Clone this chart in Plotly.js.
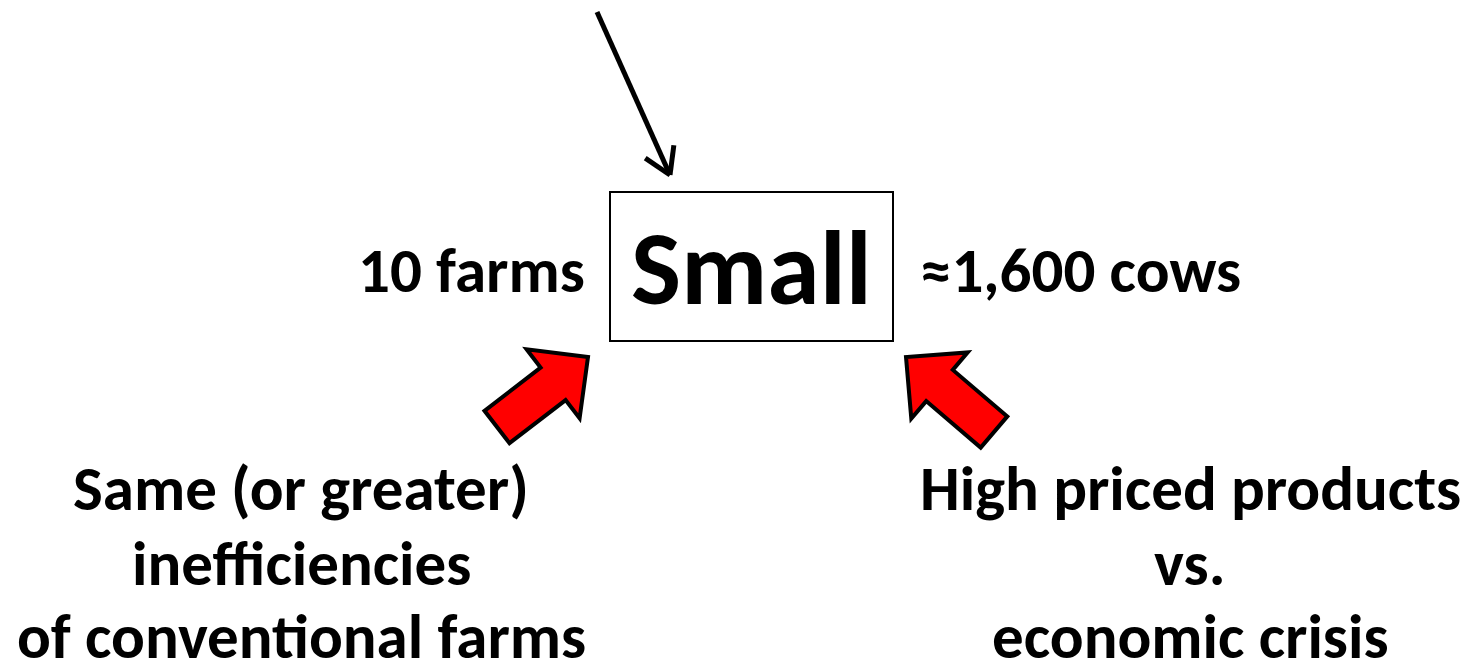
<!DOCTYPE html>
<html>
<head>
<meta charset="utf-8">
<script src="https://cdn.plot.ly/plotly-3.0.1.min.js"></script>
<style>
  html, body { margin: 0; padding: 0; background: #fff; }
  #diagram { width: 1470px; height: 661px; }
</style>
</head>
<body>
<div id="diagram"></div>
<script>
// labels
var centreLabel = 'Small';
var sideLabels = ['10 farms', '≈1,600 cows'];
var leftLines = ['Same (or greater)', 'inefficiencies', 'of conventional farms'];
var rightLines = ['High priced products', 'vs.', 'economic crisis'];

// geometry, in page pixels
var boxX = [610, 893];
var boxY = [192, 341];
var sideX = [471, 1080];
var sideY = [270, 270];
var leftX = 301, rightX = 1190;
var lineY = [488, 563, 636];
var topArrowFrom = [597, 12];
var topArrowTo = [670, 175];
var redTails = [[497, 427], [994, 432]];
var redTips = [[588, 357], [906, 357]];

var FONT = 'Carlito, Lato, sans-serif';

// block arrow outline, from tail centre to tip
function blockArrow(tail, tip, shaftW, headW, headL) {
  var dx = tip[0] - tail[0], dy = tip[1] - tail[1];
  var len = Math.sqrt(dx * dx + dy * dy);
  var ux = dx / len, uy = dy / len;
  var px = -uy, py = ux;
  var nx = tip[0] - ux * headL, ny = tip[1] - uy * headL;
  var pts = [
    [tail[0] + px * shaftW / 2, tail[1] + py * shaftW / 2],
    [nx + px * shaftW / 2, ny + py * shaftW / 2],
    [nx + px * headW / 2, ny + py * headW / 2],
    tip,
    [nx - px * headW / 2, ny - py * headW / 2],
    [nx - px * shaftW / 2, ny - py * shaftW / 2],
    [tail[0] - px * shaftW / 2, tail[1] - py * shaftW / 2]
  ];
  return 'M' + pts.map(function (p) { return p[0].toFixed(1) + ',' + p[1].toFixed(1); }).join(' L') + ' Z';
}

var shapes = [];
shapes.push({
  type: 'rect', xref: 'x', yref: 'y',
  x0: boxX[0], x1: boxX[1], y0: boxY[0], y1: boxY[1],
  line: { color: '#000', width: 2 }, fillcolor: 'rgba(0,0,0,0)'
});

// thin black arrow from the top
shapes.push({
  type: 'line', xref: 'x', yref: 'y',
  x0: topArrowFrom[0], y0: topArrowFrom[1], x1: topArrowTo[0], y1: topArrowTo[1],
  line: { color: '#000', width: 5 }
});
var adx = topArrowTo[0] - topArrowFrom[0], ady = topArrowTo[1] - topArrowFrom[1];
var alen = Math.sqrt(adx * adx + ady * ady);
[0.55, -0.55].forEach(function (ang) {
  var c = Math.cos(ang), s = Math.sin(ang);
  var bx = -(adx * c - ady * s) / alen * 30, by = -(adx * s + ady * c) / alen * 30;
  shapes.push({
    type: 'line', xref: 'x', yref: 'y',
    x0: topArrowTo[0], y0: topArrowTo[1], x1: topArrowTo[0] + bx, y1: topArrowTo[1] + by,
    line: { color: '#000', width: 5 }
  });
});

for (var i = 0; i < redTails.length; i++) {
  shapes.push({
    type: 'path', xref: 'x', yref: 'y',
    path: blockArrow(redTails[i], redTips[i], 41, 87, 44),
    fillcolor: '#ff0000', line: { color: '#000', width: 4 }
  });
}

var annotations = [];
annotations.push({
  x: (boxX[0] + boxX[1]) / 2, y: (boxY[0] + boxY[1]) / 2 + 1, xref: 'x', yref: 'y',
  text: centreLabel, showarrow: false,
  font: { family: FONT, size: 106, color: '#000', weight: 'bold' }
});
for (var j = 0; j < sideLabels.length; j++) {
  annotations.push({
    x: sideX[j], y: sideY[j], xref: 'x', yref: 'y',
    text: sideLabels[j], showarrow: false,
    font: { family: FONT, size: 63, color: '#000', weight: 'bold' }
  });
}
for (var k = 0; k < lineY.length; k++) {
  annotations.push({
    x: leftX, y: lineY[k], xref: 'x', yref: 'y',
    text: leftLines[k], showarrow: false,
    font: { family: FONT, size: 63, color: '#000', weight: 'bold' }
  });
  annotations.push({
    x: rightX, y: lineY[k], xref: 'x', yref: 'y',
    text: rightLines[k], showarrow: false,
    font: { family: FONT, size: 63, color: '#000', weight: 'bold' }
  });
}

var layout = {
  width: 1470, height: 661,
  margin: { l: 0, r: 0, t: 0, b: 0 },
  paper_bgcolor: '#fff', plot_bgcolor: '#fff',
  xaxis: { range: [0, 1470], visible: false, fixedrange: true },
  yaxis: { range: [661, 0], visible: false, fixedrange: true },
  shapes: shapes,
  annotations: annotations,
  showlegend: false
};

Plotly.newPlot('diagram', [], layout, { staticPlot: true });
</script>
</body>
</html>
